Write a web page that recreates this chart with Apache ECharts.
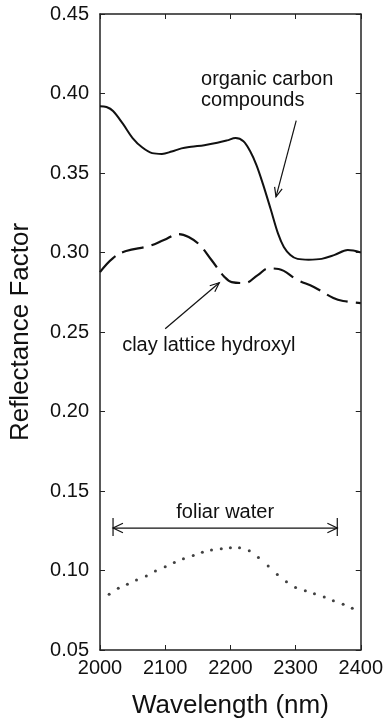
<!DOCTYPE html>
<html>
<head>
<meta charset="utf-8">
<script src="https://cdn.jsdelivr.net/npm/echarts@6/dist/echarts.min.js"></script>
<style>
html,body{margin:0;padding:0;background:#fff;}
#chart{width:386px;height:724px;}
</style>
</head>
<body>
<div id="chart"></div>
<script>
// ---- data ----
const xTicks = [2000, 2100, 2200, 2300, 2400];
const yTicks = [0.05, 0.10, 0.15, 0.20, 0.25, 0.30, 0.35, 0.40, 0.45];

const organicWl  = [2000, 2010, 2020, 2035, 2050, 2065, 2080, 2095, 2110, 2125, 2140, 2160, 2180, 2195, 2208, 2220, 2230, 2240, 2250, 2262, 2273, 2282, 2292, 2303, 2320, 2340, 2360, 2380, 2400];
const organicVal = [0.392, 0.3915, 0.389, 0.381, 0.372, 0.366, 0.3625, 0.362, 0.3635, 0.3655, 0.3665, 0.3675, 0.369, 0.3705, 0.372, 0.370, 0.364, 0.355, 0.343, 0.327, 0.312, 0.3035, 0.2985, 0.296, 0.2955, 0.296, 0.2985, 0.3015, 0.300];

const clayWl  = [2000, 2020, 2040, 2075, 2098, 2121, 2136, 2153, 2171, 2191, 2202, 2222, 2242, 2259, 2274, 2303, 2328, 2358, 2373, 2400];
const clayVal = [0.2877, 0.2965, 0.3009, 0.304, 0.3078, 0.3116, 0.3097, 0.3047, 0.2953, 0.2846, 0.2814, 0.2808, 0.2858, 0.290, 0.2896, 0.2827, 0.2783, 0.2714, 0.2695, 0.2682];

const foliarWl  = [2014, 2028, 2042, 2056, 2071, 2085, 2100, 2114, 2128, 2143, 2157, 2171, 2186, 2200, 2214, 2229, 2243, 2258, 2272, 2286, 2300, 2315, 2329, 2344, 2358, 2373, 2387];
const foliarVal = [0.085, 0.0888, 0.0913, 0.094, 0.0965, 0.0997, 0.1024, 0.1051, 0.1074, 0.1095, 0.1114, 0.1129, 0.1137, 0.1143, 0.1143, 0.1124, 0.1082, 0.1029, 0.0975, 0.0929, 0.0893, 0.0872, 0.0853, 0.0833, 0.0810, 0.0787, 0.0762];

// annotations (data coordinates)
const organicArrow = [[2301, 0.383], [2270, 0.335]];
const clayArrow    = [[2100, 0.252], [2183, 0.281]];
const foliarSpan   = [2020, 2364];
const foliarLevel  = 0.1267;
const organicLabel = {text: 'organic carbon\ncompounds', pos: [2155, 0.4025]};
const clayLabel    = {text: 'clay lattice hydroxyl', pos: [2034, 0.2418]};
const foliarLabel  = {text: 'foliar water', pos: [2192, 0.1367]};

const zip = (a, b) => a.map((v, i) => [v, b[i]]);
const FONT = '"Liberation Sans", Arial, Helvetica, sans-serif';
const INK = '#111';

function chevron(tip, from, len, ang) {
  const dx = from[0] - tip[0], dy = from[1] - tip[1];
  const d = Math.hypot(dx, dy);
  const ux = dx / d, uy = dy / d;
  const rot = (a) => [tip[0] + len * (ux * Math.cos(a) - uy * Math.sin(a)),
                      tip[1] + len * (ux * Math.sin(a) + uy * Math.cos(a))];
  return [rot(ang), tip, rot(-ang)];
}

function renderAnnotations(params, api) {
  const children = [];
  const line = (pts) => ({type: 'polyline', shape: {points: pts}, style: {stroke: INK, lineWidth: 1.2, fill: null}});
  let a = api.coord(organicArrow[0]), b = api.coord(organicArrow[1]);
  children.push(line([a, b]));
  children.push(line(chevron(b, a, 10, 0.4)));
  a = api.coord(clayArrow[0]); b = api.coord(clayArrow[1]);
  children.push(line([a, b]));
  children.push(line(chevron(b, a, 10, 0.4)));
  const l = api.coord([foliarSpan[0], foliarLevel]);
  const r = api.coord([foliarSpan[1], foliarLevel]);
  children.push(line([l, r]));
  children.push(line([[l[0], l[1] - 10], [l[0], l[1] + 8]]));
  children.push(line([[r[0], r[1] - 10], [r[0], r[1] + 8]]));
  children.push(line(chevron(l, r, 11, 0.45)));
  children.push(line(chevron(r, l, 11, 0.45)));
  const txt = (lab, align) => {
    const p = api.coord(lab.pos);
    return {type: 'text', style: {text: lab.text, x: p[0], y: p[1], fill: INK,
      font: '20px ' + FONT, align: align, verticalAlign: 'middle', lineHeight: 21}};
  };
  children.push(txt(organicLabel, 'left'));
  children.push(txt(clayLabel, 'left'));
  children.push(txt(foliarLabel, 'center'));
  return {type: 'group', children: children};
}

const axisLineStyle = {color: '#222', width: 1.5};
const chart = echarts.init(document.getElementById('chart'), null, {renderer: 'canvas'});
chart.setOption({
  animation: false,
  backgroundColor: '#fff',
  grid: {left: 97, right: 25, top: 14, bottom: 74, containLabel: false},
  xAxis: [
    {type: 'value', position: 'bottom', min: xTicks[0], max: xTicks[xTicks.length - 1], interval: 100,
     name: 'Wavelength (nm)', nameLocation: 'middle', nameGap: 43,
     nameTextStyle: {fontFamily: FONT, fontSize: 26, color: INK},
     axisLine: {show: true, lineStyle: axisLineStyle},
     axisTick: {show: true, inside: true, length: 5, lineStyle: {color: '#222', width: 1}},
     axisLabel: {fontFamily: FONT, fontSize: 20, color: INK, margin: 8, formatter: (v) => String(v)},
     splitLine: {show: false}},
    {type: 'value', position: 'top', min: xTicks[0], max: xTicks[xTicks.length - 1], interval: 100,
     axisLine: {show: true, lineStyle: axisLineStyle},
     axisTick: {show: true, inside: true, length: 5, lineStyle: {color: '#222', width: 1}},
     axisLabel: {show: false}, splitLine: {show: false}}
  ],
  yAxis: [
    {type: 'value', position: 'left', min: yTicks[0], max: yTicks[yTicks.length - 1], interval: 0.05,
     name: 'Reflectance Factor', nameLocation: 'middle', nameGap: 66, nameRotate: 90,
     nameTextStyle: {fontFamily: FONT, fontSize: 26, color: INK},
     axisLine: {show: true, lineStyle: axisLineStyle},
     axisTick: {show: true, inside: true, length: 5, lineStyle: {color: '#222', width: 1}},
     axisLabel: {fontFamily: FONT, fontSize: 20, color: INK, margin: 11, formatter: (v) => v.toFixed(2)},
     splitLine: {show: false}},
    {type: 'value', position: 'right', min: yTicks[0], max: yTicks[yTicks.length - 1], interval: 0.05,
     axisLine: {show: true, lineStyle: axisLineStyle},
     axisTick: {show: true, inside: true, length: 5, lineStyle: {color: '#222', width: 1}},
     axisLabel: {show: false}, splitLine: {show: false}}
  ],
  series: [
    {name: 'organic carbon compounds', type: 'line', smooth: 0.35, showSymbol: false, symbol: 'none',
     data: zip(organicWl, organicVal), lineStyle: {color: INK, width: 2}},
    {name: 'clay lattice hydroxyl', type: 'line', smooth: 0.4, showSymbol: false, symbol: 'none',
     data: zip(clayWl, clayVal), lineStyle: {color: INK, width: 2.2, type: [22, 8]}},
    {name: 'foliar water', type: 'scatter', symbol: 'circle', symbolSize: 3,
     data: zip(foliarWl, foliarVal), itemStyle: {color: INK}},
    {name: 'annotations', type: 'custom', renderItem: renderAnnotations, data: [[2000, 0.05]], clip: false, silent: true, z: 5}
  ]
});
</script>
</body>
</html>
